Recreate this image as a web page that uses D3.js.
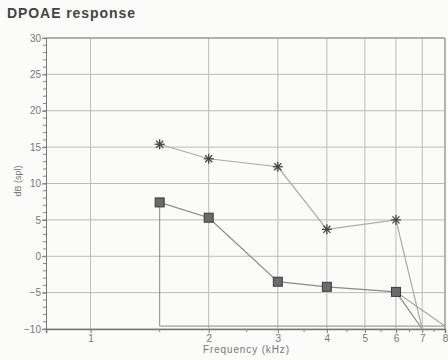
<!DOCTYPE html>
<html>
<head>
<meta charset="utf-8">
<script src="https://cdn.jsdelivr.net/npm/d3@7"></script>
<style>
  body { margin: 0; background: #fbfbfa; }
  svg { font-family: "Liberation Sans", Arial, sans-serif; }
</style>
</head>
<body>
<svg width="448" height="360"></svg>
<script>
// values
const dpFreq = [1.5, 2, 3, 4, 6, 7];
const dpLevel = [15.4, 13.4, 12.3, 3.7, 5.0, -10];

const nfFreq = [1.5, 2, 3, 4, 6, 7];
const nfLevel = [7.4, 5.3, -3.5, -4.2, -4.9, -10];

// outline drawn round the noise area
const floorFreq = [6, 8, 1.5, 1.5];
const floorLevel = [-4.9, -9.6, -9.6, 7.4];

const xTicks = [1, 2, 3, 4, 5, 6, 7, 8];
const xMinor = [1.5, 2.5, 3.5, 4.5, 5.5, 6.5, 7.5];
const yTicks = [-10, -5, 0, 5, 10, 15, 20, 25, 30];

const plotLeft = 46, plotRight = 445, plotTop = 38, plotBottom = 329;

const svg = d3.select('svg');

const x = d3.scaleLog().domain([0.77, 8]).range([plotLeft, plotRight]);
const y = d3.scaleLinear().domain([-10, 30]).range([plotBottom, plotTop]);

// title
svg.append('text')
    .attr('x', 7).attr('y', 18)
    .attr('font-size', 14).attr('font-weight', 'bold')
    .attr('fill', '#444')
    .attr('textLength', 128)
    .text('DPOAE response');

// grid
const grid = svg.append('g').attr('stroke', '#bbb').attr('stroke-width', 1);
grid.selectAll('.hg').data(yTicks).enter().append('line')
    .attr('x1', plotLeft).attr('x2', plotRight)
    .attr('y1', d => y(d)).attr('y2', d => y(d));
grid.selectAll('.vg').data(xTicks).enter().append('line')
    .attr('x1', d => x(d)).attr('x2', d => x(d))
    .attr('y1', plotTop).attr('y2', plotBottom);

// frame
svg.append('line').attr('x1', plotLeft).attr('x2', plotRight).attr('y1', plotTop).attr('y2', plotTop)
    .attr('stroke', '#888').attr('stroke-width', 1.2);
svg.append('line').attr('x1', plotRight).attr('x2', plotRight).attr('y1', plotTop).attr('y2', plotBottom)
    .attr('stroke', '#999').attr('stroke-width', 1.2);

// y axis
const yAxis = d3.axisLeft(y).tickValues(yTicks).tickSize(4).tickPadding(1);
const gy = svg.append('g').attr('transform', `translate(${plotLeft},0)`).call(yAxis);
gy.selectAll('text').attr('font-size', 10).attr('fill', '#777').attr('font-family', 'inherit');
gy.selectAll('line, path').attr('stroke', '#777');

const yMinor = d3.range(-10, 31, 1);
svg.append('g').selectAll('line').data(yMinor).enter().append('line')
    .attr('x1', plotLeft - 3).attr('x2', plotLeft)
    .attr('y1', d => y(d)).attr('y2', d => y(d))
    .attr('stroke', '#888');

// x axis
const xAxis = d3.axisBottom(x).tickValues(xTicks).tickFormat(d3.format('d')).tickSize(4).tickPadding(2);
const gx = svg.append('g').attr('transform', `translate(0,${plotBottom})`).call(xAxis);
gx.selectAll('text').attr('font-size', 10).attr('fill', '#777').attr('font-family', 'inherit');
gx.selectAll('line').attr('stroke', '#777');
gx.select('path').attr('stroke', '#777').attr('stroke-width', 1.5);

svg.append('g').selectAll('line').data(xMinor).enter().append('line')
    .attr('x1', d => x(d)).attr('x2', d => x(d))
    .attr('y1', plotBottom).attr('y2', plotBottom + 3)
    .attr('stroke', '#888');

// axis titles
svg.append('text')
    .attr('x', 246).attr('y', 353)
    .attr('text-anchor', 'middle')
    .attr('font-size', 10).attr('fill', '#777')
    .attr('textLength', 86)
    .text('Frequency (kHz)');

svg.append('text')
    .attr('transform', 'translate(21,181) rotate(-90)')
    .attr('text-anchor', 'middle')
    .attr('font-size', 9).attr('fill', '#777')
    .text('dB (spl)');

// lines
const line = d3.line().x(d => x(d[0])).y(d => y(d[1]));

const floorPts = floorFreq.map((f, i) => [f, floorLevel[i]]);
const nfPts = nfFreq.map((f, i) => [f, nfLevel[i]]);
const dpPts = dpFreq.map((f, i) => [f, dpLevel[i]]);

svg.append('path').datum(floorPts)
    .attr('d', line).attr('fill', 'none')
    .attr('stroke', '#8a8a8a').attr('stroke-width', 1);

svg.append('path').datum(nfPts)
    .attr('d', line).attr('fill', 'none')
    .attr('stroke', '#8a8a8a').attr('stroke-width', 1.2);

svg.append('path').datum(dpPts)
    .attr('d', line).attr('fill', 'none')
    .attr('stroke', '#aaa').attr('stroke-width', 1.2);

// square markers (last point sits on the floor, no marker)
svg.append('g').selectAll('rect').data(nfPts.slice(0, 5)).enter().append('rect')
    .attr('x', d => x(d[0]) - 4.5).attr('y', d => y(d[1]) - 4.5)
    .attr('width', 9).attr('height', 9)
    .attr('fill', '#6a6a6a').attr('stroke', '#3a3a3a').attr('stroke-width', 1);

// asterisk markers
const star = svg.append('g').selectAll('g').data(dpPts.slice(0, 5)).enter().append('g')
    .attr('transform', d => `translate(${x(d[0])},${y(d[1])})`);
[0, 45, 90, 135].forEach(a => {
    star.append('line')
        .attr('x1', -5).attr('x2', 5).attr('y1', 0).attr('y2', 0)
        .attr('transform', `rotate(${a})`)
        .attr('stroke', '#444').attr('stroke-width', 1.3);
});
</script>
</body>
</html>
